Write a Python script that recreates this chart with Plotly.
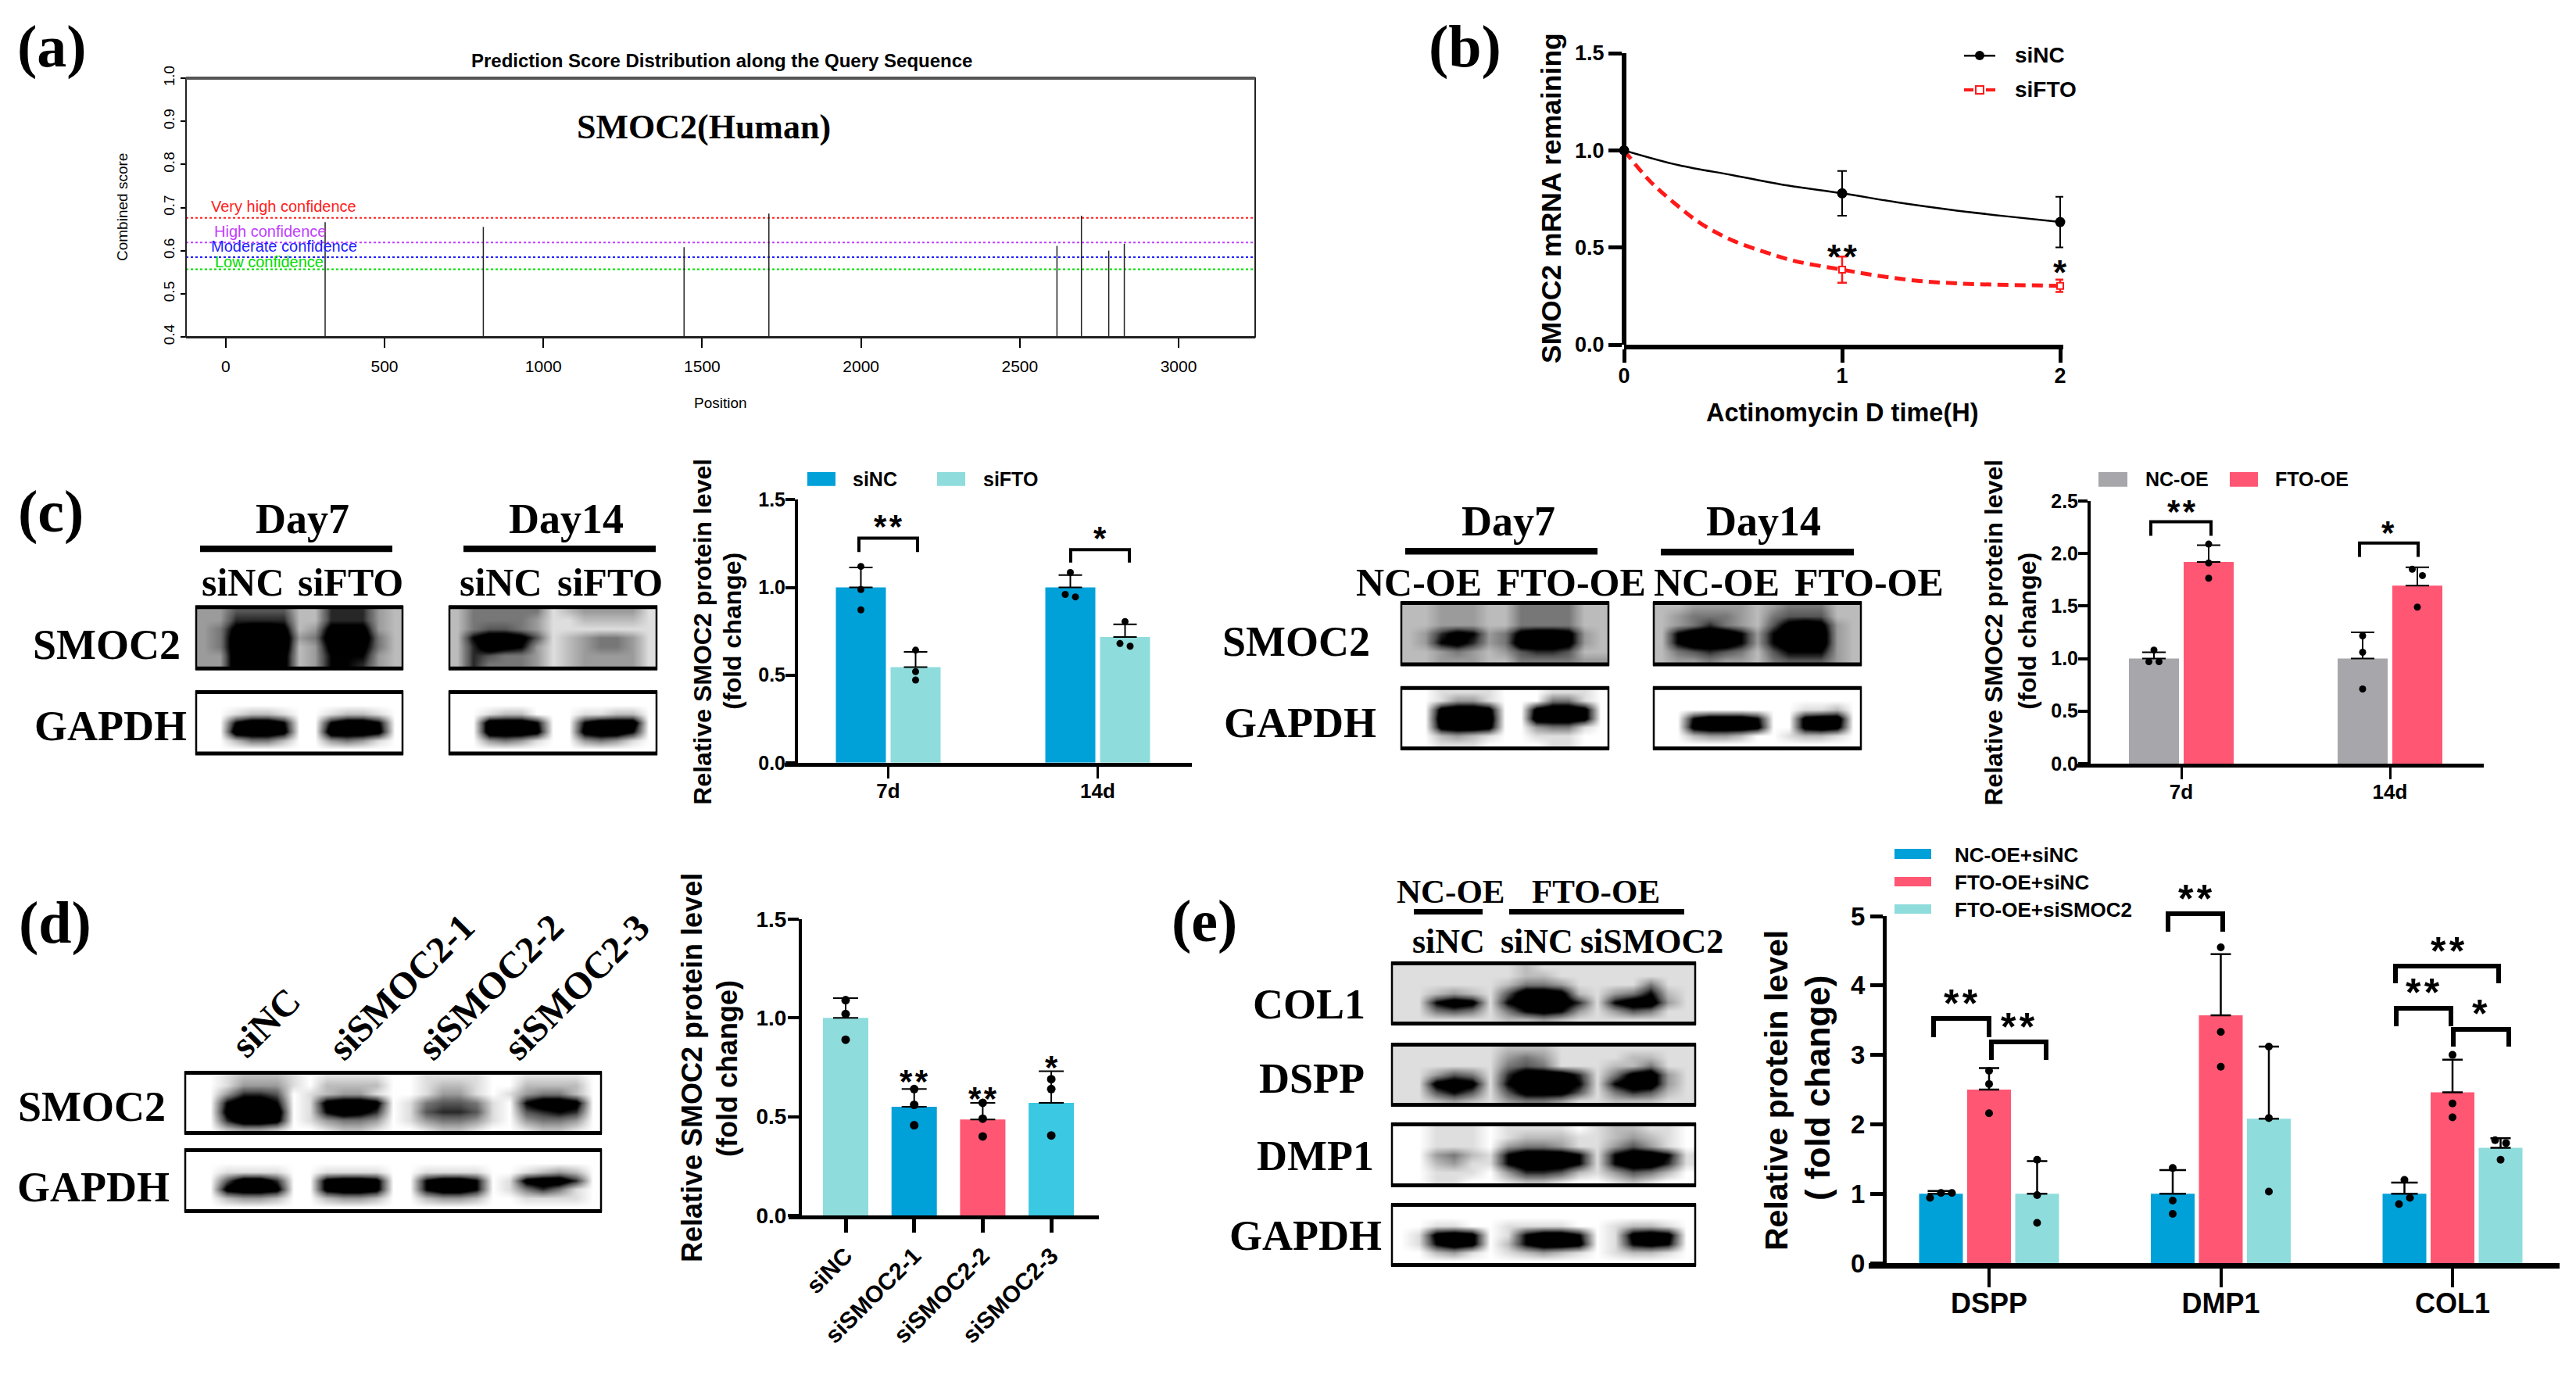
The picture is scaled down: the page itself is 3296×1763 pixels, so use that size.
import plotly.graph_objects as go

W, H = 3296, 1763
SANS = "Liberation Sans"
SERIF = "Liberation Serif"
BLUE, PINK, TEAL, GREY, CYAN = "#00A1D9", "#FF5773", "#8FDCDD", "#A6A6AB", "#3AC8E2"

# ---------- panel (a)
a_positions = [313, 811, 1443, 1710, 2617, 2694, 2780, 2829]
a_scores = [0.666, 0.655, 0.608, 0.686, 0.611, 0.681, 0.600, 0.616]
a_thresholds = [0.676, 0.619, 0.585, 0.557]
a_threshold_names = ["Very high confidence", "High confidence", "Moderate confidence", "Low confidence"]
a_threshold_colors = ["#ff2020", "#c040ff", "#2020ff", "#00dd00"]
a_x_ticks = [0, 500, 1000, 1500, 2000, 2500, 3000]
a_y_ticks = [0.4, 0.5, 0.6, 0.7, 0.8, 0.9, 1.0]

# ---------- panel (b)
b_x = [0, 1, 2]
b_siNC = [1.0, 0.779, 0.631]
b_siNC_err = [0, 0.115, 0.13]
b_siFTO = [1.0, 0.386, 0.303]
b_siFTO_err = [0, 0.067, 0.032]
b_siNC_curve_x = [0, 0.25, 0.5, 0.75, 1, 1.25, 1.5, 1.75, 2]
b_siNC_curve_y = [1.0, 0.924, 0.872, 0.819, 0.779, 0.733, 0.694, 0.661, 0.631]
b_siFTO_curve_x = [0, 0.12, 0.24, 0.35, 0.49, 0.65, 0.785, 1, 1.175, 1.355, 1.58, 2]
b_siFTO_curve_y = [1.0, 0.84, 0.72, 0.625, 0.54, 0.475, 0.43, 0.386, 0.353, 0.328, 0.313, 0.303]

# ---------- panel (c) left
c1_cats = ["7d", "14d"]
c1_siNC = [1.0, 1.0]
c1_siNC_top = [1.114, 1.07]
c1_siNC_pts = [[1.12, 0.988, 0.872], [1.085, 0.96, 0.946]]
c1_siFTO = [0.545, 0.717]
c1_siFTO_top = [0.632, 0.79]
c1_siFTO_pts = [[0.642, 0.52, 0.472], [0.805, 0.68, 0.665]]

# ---------- panel (c) right
c2_cats = ["7d", "14d"]
c2_NC = [1.0, 1.0]
c2_NC_top = [1.06, 1.25]
c2_NC_pts = [[1.08, 0.97, 0.97], [1.216, 1.06, 0.71]]
c2_FTO = [1.92, 1.695]
c2_FTO_top = [2.08, 1.87]
c2_FTO_pts = [[2.09, 1.91, 1.765], [1.85, 1.79, 1.49]]

# ---------- panel (d)
d_cats = ["siNC", "siSMOC2-1", "siSMOC2-2", "siSMOC2-3"]
d_vals = [1.0, 0.55, 0.486, 0.57]
d_top = [1.10, 0.64, 0.57, 0.73]
d_pts = [[1.09, 1.02, 0.89], [0.64, 0.56, 0.457], [0.57, 0.49, 0.40], [0.69, 0.64, 0.405]]
d_colors = [TEAL, BLUE, PINK, CYAN]

# ---------- panel (e)
e_cats = ["DSPP", "DMP1", "COL1"]
e_A = [1.0, 1.0, 1.0]
e_A_top = [1.04, 1.34, 1.16]
e_A_pts = [[1.01, 1.01, 0.94], [1.37, 0.90, 0.71], [1.2, 0.94, 0.85]]
e_B = [2.50, 3.57, 2.46]
e_B_top = [2.81, 4.45, 2.93]
e_B_pts = [[2.77, 2.58, 2.16], [4.55, 3.33, 2.83], [3.0, 2.3, 2.1]]
e_C = [1.0, 2.08, 1.66]
e_C_top = [1.47, 3.12, 1.80]
e_C_pts = [[1.49, 0.98, 0.58], [3.12, 2.09, 1.03], [1.77, 1.73, 1.49]]

# ---------- western blots: hand-read darkness, 0 = white ... 7+ = black
blot_c_d7_smoc2 = ["3355552266632", "3366662266632", "3489982388832", "3499993499942", "3499992389842", "3399982377732", "3399982377632"]
blot_c_d7_gapdh = ["0000000000000", "0000000000000", "0012210012210", "0079970079970", "0099980099980", "0024420034310", "0000000000000"]
blot_c_d14_smoc2 = ["2444441233331", "2444431122221", "2455431111111", "2799851234431", "2698731234431", "2654431233331", "2644431233331"]
blot_c_d14_gapdh = ["0000000000000", "0000000000000", "0012200011220", "0099970079990", "0099980089970", "0034310034310", "0000000000000"]
blot_c2_d7_smoc2 = ["2233322444422", "2233322444422", "2233322444422", "2368734899832", "2378634999832", "2234323566522", "2233322444433"]
blot_c2_d14_smoc2 = ["2233332344422", "2344432455522", "2346432589832", "2799973799932", "2799973799932", "2456542577732", "2334332455532"]
blot_c2_d7_gapdh = ["0011110001110", "0013310004410", "0089980089980", "0099990099980", "0089980034410", "0023210011100", "0011100001100"]
blot_c2_d14_gapdh = ["0000000000000", "0000000000000", "0000000001120", "0079997008990", "0089998008980", "0023320012210", "0000000000000"]
blot_d_smoc2 = ["0012221011110011110011110", "0013331022220012210022220", "0036650123310013310134420", "0079970189980145541079980", "0089990179860156651056760", "0069980134430134431034430", "0023320012210012210012210"]
blot_d_gapdh = ["0000000000000000000000000", "0000000000000000000000000", "0011110011110011110012320", "0059960089980079970189960", "0089980089980079970146410", "0023320023320023320011110", "0000000000000000000000000"]
blot_e_col1 = ["11111112111111111", "11111112211111111", "11111124431111411", "11232159982134721", "11798179996179931", "11454147873135411", "11111122321111111"]
blot_e_dspp = ["11111122211111111", "11111134311112211", "11111145411122411", "11354169996148931", "11898179997179931", "11575158885146521", "11232134431122211"]
blot_e_dmp1 = ["00111011110122110", "00111012221123210", "00111034431135310", "00342179997179971", "00231179997179961", "00111036652135420", "00110012210012100"]
blot_e_gapdh = ["00000000000000000", "00000000000000000", "00110011110012210", "01898017997018980", "01798027998017870", "00231012321012210", "00000000000000000"]


def X(p):
    return p / W


def Y(p):
    return 1 - p / H


def cy(p):
    return 560 + (p - 560) * 1.0449


fig = go.Figure()
shapes, notes = [], []


def txt(x, y, s, size, family=SANS, bold=True, color="black", angle=0, anchor="center"):
    notes.append(dict(x=X(x), y=Y(y), xref="paper", yref="paper", text=s, showarrow=False,
                      xanchor=anchor, yanchor="middle", textangle=angle,
                      font=dict(family=family, size=size, color=color, weight=700 if bold else 400)))


def star(x, y, s, size=42):
    txt(x, y + 0.2 * size, s.replace("**", "*\u200a*"), size)


def rect(x0, y0, x1, y1, color):
    shapes.append(dict(type="rect", xref="paper", yref="paper", x0=X(x0), x1=X(x1), y0=Y(y0), y1=Y(y1),
                       fillcolor=color, line=dict(width=0), layer="above"))


def bracket(x0, x1, top, bot, w=4):
    shapes.append(dict(type="path", xref="paper", yref="paper", layer="above",
                       path=f"M {X(x0)} {Y(bot)} L {X(x0)} {Y(top)} L {X(x1)} {Y(top)} L {X(x1)} {Y(bot)}",
                       line=dict(color="black", width=w)))


def blot(rows, x0, y0, x1, y1):
    z = [[int(c) for c in r] for r in rows]
    nr, nc = len(z), len(z[0])
    dx, dy = (x1 - x0) / nc, (y1 - y0) / nr
    fig.add_trace(go.Heatmap(z=z, x0=x0 + dx / 2, dx=dx, y0=y0 + dy / 2, dy=dy, zmin=0, zmax=9, zsmooth="best",
                             showscale=False, hoverinfo="skip", xaxis="x7", yaxis="y7",
                             colorscale=[[0, "#ffffff"], [0.11, "#dedede"], [0.22, "#bcbcbc"], [0.33, "#9c9c9c"],
                                         [0.44, "#787878"], [0.56, "#555555"], [0.67, "#262626"], [0.78, "#000000"],
                                         [1, "#000000"]]))
    shapes.append(dict(type="rect", xref="paper", yref="paper", x0=X(x0), x1=X(x1), y0=Y(y0), y1=Y(y1),
                       line=dict(color="black", width=2.5), layer="above"))
    rect(x0 - 1, y0 - 2, x1 + 1, y0 + 3, "black")
    rect(x0 - 1, y1 - 3, x1 + 1, y1 + 2, "black")


def add_axes(n, L, R, T, B, xr, yr, yaxis_x, xticks, xlabels, yticks, ylabels, tick_size, x_size,
             yw=4, xw=5, ylen=12, xlen=15, xangle=0, xstand=0, ystand=0, xtw=3):
    fig.layout[f"xaxis{n}"] = dict(domain=[X(L), X(R)], range=xr, anchor=f"y{n}", showgrid=False, zeroline=False,
                                   automargin=False, ticklabelstandoff=xstand,
                                   showline=True, linecolor="black", linewidth=xw, ticks="outside", ticklen=xlen,
                                   tickwidth=xtw, tickcolor="black", tickmode="array", tickvals=xticks, ticktext=xlabels,
                                   tickangle=xangle,
                                   tickfont=dict(family=SANS, size=x_size, color="black", weight=700))
    fig.layout[f"yaxis{n}"] = dict(domain=[Y(B), Y(T)], range=yr, anchor="free", position=X(yaxis_x), showgrid=False,
                                   automargin=False, ticklabelstandoff=ystand,
                                   zeroline=False, showline=True, linecolor="black", linewidth=yw, ticks="outside",
                                   ticklen=ylen, tickwidth=yw, tickcolor="black", tickmode="array", tickvals=yticks,
                                   ticktext=ylabels, tickfont=dict(family=SANS, size=tick_size, color="black", weight=700))


def bar_series(n, pos, vals, tops, pts, color, width, dxs, dot=9, cap=15, thick=2):
    xs = list(pos)
    fig.add_trace(go.Bar(x=xs, y=vals, width=width, marker=dict(color=color, line=dict(width=0)),
                         xaxis=f"x{n}", yaxis=f"y{n}", showlegend=False,
                         error_y=dict(type="data", symmetric=False, array=[t - v for t, v in zip(tops, vals)],
                                      arrayminus=[0] * len(vals), color="black", thickness=thick, width=cap)))
    px, py = [], []
    for p, group, dg in zip(xs, pts, dxs):
        for v, d in zip(group, dg):
            px.append(p + d)
            py.append(v)
    fig.add_trace(go.Scatter(x=px, y=py, mode="markers", marker=dict(color="black", size=dot), cliponaxis=False,
                             xaxis=f"x{n}", yaxis=f"y{n}", showlegend=False))


# ============ panel (a)
add_axes(1, 238, 1606, 100, 431, [-125, 3241], [0.4, 1.0], 238, a_x_ticks, [str(v) for v in a_x_ticks],
         a_y_ticks, [f"{v:.1f}" for v in a_y_ticks], 19, 21, yw=2, xw=2, ylen=6, xlen=12, xstand=6)
fig.layout.xaxis1.update(tickwidth=1.5, tickfont=dict(weight=400))
fig.layout.yaxis1.update(tickwidth=2, tickangle=-90, tickfont=dict(weight=400), linecolor="#222222")
fig.layout.xaxis1.update(linecolor="#222222")
shapes.append(dict(type="rect", xref="paper", yref="paper", x0=X(238), x1=X(1606), y0=Y(100), y1=Y(431),
                   line=dict(color="#222222", width=2), layer="above"))
rect(238, 98, 1606, 102, "#555555")
for v, name, col in zip(a_thresholds, a_threshold_names, a_threshold_colors):
    fig.add_trace(go.Scatter(x=[-125, 3241], y=[v, v], mode="lines", line=dict(color=col, width=2, dash="dot"),
                             name=name, xaxis="x1", yaxis="y1", showlegend=False))
spike_x, spike_y = [], []
for p, s in zip(a_positions, a_scores):
    spike_x += [p, p, None]
    spike_y += [0.4, s, None]
fig.add_trace(go.Scatter(x=spike_x, y=spike_y, mode="lines", line=dict(color="#222222", width=1.5),
                         xaxis="x1", yaxis="y1", showlegend=False))
txt(923, 77, "Prediction Score Distribution along the Query Sequence", 24)
txt(900, 163, "SMOC2(Human)", 44, SERIF)
txt(156, 265, "Combined score", 19, bold=False, angle=-90)
txt(922, 515, "Position", 19, bold=False)
for (x, y), name, col in zip([(363, 264), (345, 296), (363, 315), (344, 335)], a_threshold_names, a_threshold_colors):
    txt(x, y, name, 20, bold=False, color=col)

# ============ panel (b)
add_axes(2, 2078, 2640, 68, 441, [0, 2 * (2640 - 2078) / (2636 - 2078)], [0, 1.5], 2078, b_x, ["0", "1", "2"],
         [0, 0.5, 1.0, 1.5], ["0.0", "0.5", "1.0", "1.5"], 27, 27, yw=6, xw=6, ylen=17, xlen=17, xstand=-6, xtw=5)
fig.layout.yaxis2.update(tickwidth=5)
fig.add_trace(go.Scatter(x=b_siNC_curve_x, y=b_siNC_curve_y, mode="lines", line=dict(color="black", width=2.5, shape="spline"),
                         xaxis="x2", yaxis="y2", showlegend=False, cliponaxis=False))
fig.add_trace(go.Scatter(x=b_siFTO_curve_x, y=b_siFTO_curve_y, mode="lines",
                         line=dict(color="#ff1a1a", width=5, dash="14px,8px", shape="spline"),
                         xaxis="x2", yaxis="y2", showlegend=False, cliponaxis=False))
fig.add_trace(go.Scatter(x=b_x, y=b_siNC, mode="markers", marker=dict(color="black", size=13), cliponaxis=False,
                         error_y=dict(type="data", array=b_siNC_err, color="black", thickness=2, width=6),
                         xaxis="x2", yaxis="y2", showlegend=False, name="siNC"))
fig.add_trace(go.Scatter(x=b_x[1:], y=b_siFTO[1:], mode="markers", cliponaxis=False,
                         marker=dict(color="white", symbol="square", size=8, line=dict(color="#ff1a1a", width=2)),
                         error_y=dict(type="data", array=b_siFTO_err[1:], color="#ff1a1a", thickness=2.5, width=6),
                         xaxis="x2", yaxis="y2", showlegend=False, name="siFTO"))
txt(1985, 254, "SMOC2 mRNA remaining", 35.5, angle=-90)
txt(2357, 528, "Actinomycin D time(H)", 32.5)
star(2357, 320, "**", 44)
star(2636, 340, "*", 44)
rect(2513, 70, 2553, 72.5, "black")
shapes.append(dict(type="circle", xref="paper", yref="paper", x0=X(2527), x1=X(2539), y0=Y(65), y1=Y(77),
                   fillcolor="black", line=dict(width=0), layer="above"))
rect(2513, 113, 2525, 117, "#ff1a1a")
rect(2541, 113, 2553, 117, "#ff1a1a")
shapes.append(dict(type="rect", xref="paper", yref="paper", x0=X(2528), x1=X(2538), y0=Y(110), y1=Y(120),
                   fillcolor="white", line=dict(color="#ff1a1a", width=2), layer="above"))
txt(2576, 71, "siNC", 28, anchor="left")
txt(2576, 115, "siFTO", 28, anchor="left")

# ============ panel (c) left chart
sp = 268
add_axes(3, 1004, 1525, cy(636), cy(958), [(1004 - 1136.5) / sp, (1525 - 1136.5) / sp], [0, 1.5], 1019, [0, 1], c1_cats,
         [0, 0.5, 1.0, 1.5], ["0.0", "0.5", "1.0", "1.5"], 25, 26, xstand=-6, ystand=-5)
off = 35 / sp
j = 6.5 / sp
bar_series(3, [-off, 1 - off], c1_siNC, c1_siNC_top, c1_siNC_pts, BLUE, 64 / sp, [[0, 0, 0], [0, -j, j]])
bar_series(3, [off, 1 + off], c1_siFTO, c1_siFTO_top, c1_siFTO_pts, TEAL, 64 / sp, [[0, 0, 0], [0, -j, j]])
txt(899, cy(798), "Relative SMOC2 protein level", 32, angle=-90)
txt(937, cy(797), "(fold change)", 32, angle=-90)
bracket(1099, 1174, cy(683), cy(700))
bracket(1370, 1445, cy(697), cy(713))
star(1136, cy(661), "**")
star(1407, cy(675), "*")
rect(1033, cy(602), 1069, cy(619), BLUE)
rect(1199, cy(602), 1235, cy(619), TEAL)
txt(1089, cy(611), "siNC", 25, anchor="left")
txt(1256, cy(611), "siFTO", 25, anchor="left")
blot(blot_c_d7_smoc2, 251, cy(767), 515, cy(843))
blot(blot_c_d7_gapdh, 251, cy(871), 515, cy(947))
blot(blot_c_d14_smoc2, 575, cy(767), 840, cy(843))
blot(blot_c_d14_gapdh, 575, cy(871), 840, cy(947))
txt(387, cy(660), "Day7", 54, SERIF)
txt(724, cy(660), "Day14", 54, SERIF)
rect(256, cy(692), 502, cy(700), "black")
rect(593, cy(692), 839, cy(700), "black")
txt(311, cy(737), "siNC", 50, SERIF)
txt(448, cy(737), "siFTO", 50, SERIF)
txt(641, cy(737), "siNC", 50, SERIF)
txt(780, cy(737), "siFTO", 50, SERIF)
txt(136, cy(814), "SMOC2", 54, SERIF)
txt(141, cy(913), "GAPDH", 54, SERIF)

# ============ panel (c) right chart
sp = 267
add_axes(4, 2657, 3178, cy(637.5), cy(959), [(2657 - 2791) / sp, (3178 - 2791) / sp], [0, 2.5], 2673, [0, 1], c2_cats,
         [0, 0.5, 1.0, 1.5, 2.0, 2.5], ["0.0", "0.5", "1.0", "1.5", "2.0", "2.5"], 25, 26, xstand=-6, ystand=-5)
off = 35 / sp
j = 6.5 / sp
bar_series(4, [-off, 1 - off], c2_NC, c2_NC_top, c2_NC_pts, GREY, 64 / sp, [[0, -j, j], [0, 0, 0]])
bar_series(4, [off, 1 + off], c2_FTO, c2_FTO_top, c2_FTO_pts, PINK, 64 / sp, [[0, 0, 0], [-j, j, 0]])
txt(2551, cy(799), "Relative SMOC2 protein level", 32, angle=-90)
txt(2594, cy(797), "(fold change)", 32, angle=-90)
bracket(2752, 2829, cy(663), cy(680))
bracket(3019, 3094, cy(689), cy(706))
star(2791, cy(642), "**")
star(3055, cy(668), "*")
rect(2685, cy(602), 2722, cy(620), GREY)
rect(2853, cy(602), 2889, cy(620), PINK)
txt(2743, cy(611), "NC-OE", 25, anchor="left")
txt(2909, cy(611), "FTO-OE", 25, anchor="left")
blot(blot_c2_d7_smoc2, 1793, cy(762), 2058, cy(838))
blot(blot_c2_d7_gapdh, 1793, cy(866), 2058, cy(941))
blot(blot_c2_d14_smoc2, 2116, cy(762), 2381, cy(838))
blot(blot_c2_d14_gapdh, 2116, cy(866), 2381, cy(941))
txt(1930, cy(662), "Day7", 54, SERIF)
txt(2256, cy(662), "Day14", 54, SERIF)
rect(1798, cy(695), 2044, cy(703), "black")
rect(2125, cy(696), 2372, cy(704), "black")
txt(1815, cy(737), "NC-OE", 50, SERIF)
txt(2010, cy(737), "FTO-OE", 50, SERIF)
txt(2196, cy(737), "NC-OE", 50, SERIF)
txt(2391, cy(737), "FTO-OE", 50, SERIF)
txt(1658, cy(810), "SMOC2", 54, SERIF)
txt(1663, cy(909), "GAPDH", 54, SERIF)

# ============ panel (d)
sp = 87.7
add_axes(5, 1009, 1406, 1176, 1555, [(1009 - 1082) / sp, (1406 - 1082) / sp], [0, 1.5], 1024, [0, 1, 2, 3], d_cats,
         [0, 0.5, 1.0, 1.5], ["0.0", "0.5", "1.0", "1.5"], 28, 30, xangle=-45, ylen=14, xlen=17, ystand=-4, xtw=5)
for i, (cat, col) in enumerate(zip(d_cats, d_colors)):
    bar_series(5, [i], [d_vals[i]], [d_top[i]], [d_pts[i]], col, 58 / sp, [[0, 0, 0]], dot=11, cap=16)
txt(885, 1366, "Relative SMOC2 protein level", 36, angle=-90)
txt(930, 1367, "(fold change)", 36, angle=-90)
star(1169, 1375, "**")
star(1257, 1397, "**")
star(1345, 1357, "*")
blot(blot_d_smoc2, 237, 1372, 769, 1450)
blot(blot_d_gapdh, 237, 1471, 769, 1550)
txt(117, 1416, "SMOC2", 54, SERIF)
txt(120, 1519, "GAPDH", 54, SERIF)
txt(339, 1308, "siNC", 48, SERIF, angle=-45)
txt(513, 1262, "siSMOC2-1", 48, SERIF, angle=-45)
txt(627, 1262, "siSMOC2-2", 48, SERIF, angle=-45)
txt(737, 1262, "siSMOC2-3", 48, SERIF, angle=-45)

# ============ panel (e)
sp = 296.5
add_axes(6, 2391, 3275, 1172, 1616, [(2391 - 2545) / sp, (3275 - 2545) / sp], [0, 5], 2411, [0, 1, 2], e_cats,
         [0, 1, 2, 3, 4, 5], ["0", "1", "2", "3", "4", "5"], 33, 36, yw=5, xw=7, ylen=16, xlen=24, xstand=-10, xtw=4)
step = 61.5 / sp
wid = 56 / sp
j = 14 / sp
bar_series(6, [-step, 1 - step, 2 - step], e_A, e_A_top, e_A_pts, BLUE, wid, [[0, j, -j], [0, 0, 0], [0, j / 2, -j / 2]], dot=10, cap=17, thick=2.5)
bar_series(6, [0, 1, 2], e_B, e_B_top, e_B_pts, PINK, wid, [[0, 0, 0], [0, 0, 0], [0, 0, 0]], dot=10, cap=13, thick=2.5)
bar_series(6, [step, 1 + step, 2 + step], e_C, e_C_top, e_C_pts, TEAL, wid, [[0, 0, 0], [0, 0, 0], [-j / 2, j / 2, 0]], dot=10, cap=13, thick=2.5)
txt(2273, 1395, "Relative protein level", 41, angle=-90)
txt(2325, 1392, "( fold change)", 44, angle=-90)
bracket(2474, 2545, 1303, 1327, 6)
bracket(2548, 2618, 1333, 1356, 6)
bracket(2774, 2844, 1169, 1192, 6)
bracket(3065, 3197, 1236, 1258, 6)
bracket(3066, 3136, 1290, 1313, 6)
bracket(3139, 3210, 1317, 1339, 6)
star(2509, 1274, "**", 50)
star(2582, 1304, "**", 50)
star(2809, 1140, "**", 50)
star(3132, 1207, "**", 50)
star(3100, 1260, "**", 50)
star(3173, 1287, "*", 50)
rect(2424, 1086, 2471, 1099, BLUE)
rect(2424, 1122, 2471, 1134, PINK)
rect(2424, 1157, 2471, 1169, TEAL)
txt(2499, 1094, "NC-OE+siNC", 26, anchor="left")
txt(2499, 1129, "FTO-OE+siNC", 26, anchor="left")
txt(2499, 1164, "FTO-OE+siSMOC2", 26, anchor="left")
blot(blot_e_col1, 1781, 1232, 2169, 1310)
blot(blot_e_dspp, 1781, 1336, 2169, 1414)
blot(blot_e_dmp1, 1781, 1438, 2169, 1517)
blot(blot_e_gapdh, 1781, 1541, 2169, 1619)
txt(1675, 1285, "COL1", 54, SERIF)
txt(1678, 1380, "DSPP", 54, SERIF)
txt(1683, 1479, "DMP1", 54, SERIF)
txt(1670, 1581, "GAPDH", 54, SERIF)
txt(1856, 1140, "NC-OE", 43, SERIF)
txt(2042, 1140, "FTO-OE", 43, SERIF)
rect(1809, 1163, 1897, 1170, "black")
rect(1931, 1163, 2155, 1170, "black")
txt(1853, 1204, "siNC", 44, SERIF)
txt(1966, 1204, "siNC", 44, SERIF)
txt(2113, 1204, "siSMOC2", 44, SERIF)

# ---------- panel letters
txt(66, 60, "(a)", 76, SERIF)
txt(1874, 60, "(b)", 76, SERIF)
txt(65, cy(650), "(c)", 76, SERIF)
txt(70, 1180, "(d)", 76, SERIF)
txt(1541, 1178, "(e)", 76, SERIF)

fig.update_layout(
    width=W, height=H, margin=dict(l=0, r=0, t=0, b=0, autoexpand=False), paper_bgcolor="white",
    plot_bgcolor="rgba(0,0,0,0)",
    barmode="overlay", showlegend=False, shapes=shapes, annotations=notes,
    xaxis7=dict(domain=[0, 1], range=[0, W], visible=False, anchor="y7", fixedrange=True, automargin=False),
    yaxis7=dict(domain=[0, 1], range=[H, 0], visible=False, anchor="x7", fixedrange=True, automargin=False),
)
fig.write_html("out.html", config=dict(displayModeBar=False),
               post_script="document.body.style.margin='0';document.body.style.overflow='hidden';")
